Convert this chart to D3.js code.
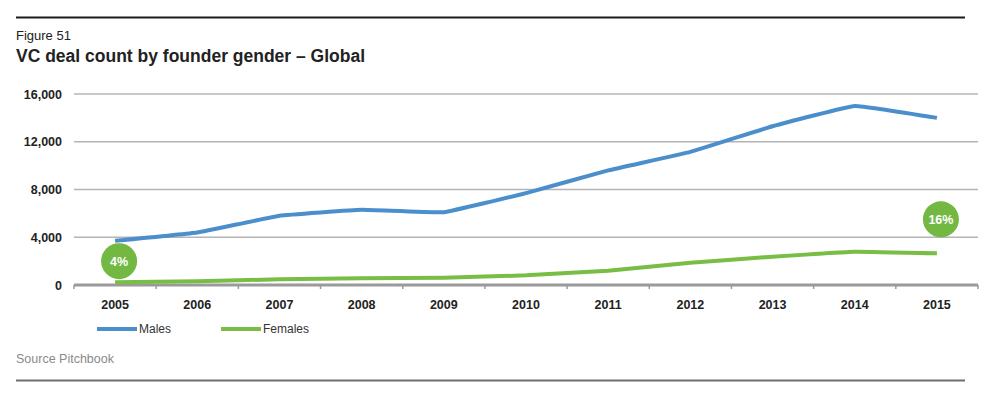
<!DOCTYPE html>
<html>
<head>
<meta charset="utf-8">
<script src="https://cdn.jsdelivr.net/npm/d3@7"></script>
<style>
    body { margin: 0; background: #fff; }
    svg text { font-family: 'Liberation Sans', Arial, sans-serif; }
</style>
</head>
<body>
<div class="graph"></div>
<script>
var years = ['2005', '2006', '2007', '2008', '2009', '2010', '2011', '2012', '2013', '2014', '2015'];
var males = [3700, 4400, 5800, 6300, 6100, 7700, 9600, 11150, 13300, 15000, 14000];
var females = [230, 310, 480, 560, 610, 810, 1200, 1870, 2370, 2790, 2650];
var yTicks = [0, 4000, 8000, 12000, 16000];
var shareLabels = [{ year: '2005', text: '4%', value: 2000 }, { year: '2015', text: '16%', value: 5500 }];
var seriesNames = ['Males', 'Females'];
var colors = ['#4a8fcb', '#78bd44'];

var width = 983, height = 396;
var plotLeft = 74, plotRight = 978, plotTop = 94, plotBottom = 285;

var svg = d3.select('.graph')
    .append('svg')
    .attr('width', width)
    .attr('height', height);

// header
svg.append('line')
    .attr('x1', 16).attr('x2', 965).attr('y1', 17.5).attr('y2', 17.5)
    .attr('stroke', '#1a1a1a').attr('stroke-width', 2);
svg.append('text')
    .attr('x', 16).attr('y', 40)
    .attr('font-size', 13).attr('fill', '#222')
    .text('Figure 51');
svg.append('text')
    .attr('x', 16).attr('y', 62)
    .attr('font-size', 17.5).attr('font-weight', 'bold').attr('fill', '#222')
    .text('VC deal count by founder gender – Global');

var xScale = d3.scaleBand()
    .domain(years)
    .range([plotLeft, plotRight]);

var yScale = d3.scaleLinear()
    .domain([0, 16000])
    .range([plotBottom, plotTop]);

// grid
svg.append('g')
    .selectAll('line')
    .data(yTicks.filter(function (d) { return d > 0; }))
    .enter()
    .append('line')
    .attr('x1', plotLeft).attr('x2', plotRight)
    .attr('y1', function (d) { return yScale(d); })
    .attr('y2', function (d) { return yScale(d); })
    .attr('stroke', '#b4b4b4').attr('stroke-width', 1.5);

// y labels
var yAxis = d3.axisLeft(yScale)
    .tickValues(yTicks)
    .tickSize(0)
    .tickPadding(12)
    .tickFormat(d3.format(','));

svg.append('g')
    .attr('transform', 'translate(' + plotLeft + ',0)')
    .call(yAxis)
    .call(function (g) { g.select('.domain').remove(); })
    .selectAll('text')
    .attr('font-size', 12.5).attr('font-weight', 'bold').attr('fill', '#222')
    .style('font-family', "'Liberation Sans', Arial, sans-serif");

// x axis
var xAxis = d3.axisBottom(xScale).tickSize(0).tickPadding(15);
var xg = svg.append('g')
    .attr('transform', 'translate(0,' + plotBottom + ')')
    .call(xAxis);
xg.select('.domain').remove();
xg.selectAll('text')
    .attr('font-size', 12.5).attr('font-weight', 'bold').attr('fill', '#222')
    .style('font-family', "'Liberation Sans', Arial, sans-serif");

svg.append('line')
    .attr('x1', plotLeft).attr('x2', plotRight).attr('y1', plotBottom).attr('y2', plotBottom)
    .attr('stroke', '#9a9a9a').attr('stroke-width', 3);

var boundaries = years.map(function (d) { return xScale(d); }).concat([plotRight]);
svg.append('g')
    .selectAll('line')
    .data(boundaries)
    .enter()
    .append('line')
    .attr('x1', function (d) { return d; })
    .attr('x2', function (d) { return d; })
    .attr('y1', plotBottom).attr('y2', plotBottom + 4)
    .attr('stroke', '#9a9a9a').attr('stroke-width', 1.5);

// lines
var line = d3.line()
    .x(function (d, i) { return xScale(years[i]) + xScale.bandwidth() / 2; })
    .y(function (d) { return yScale(d); })
    .curve(d3.curveCardinal.tension(0.75));

[males, females].forEach(function (series, k) {
    svg.append('path')
        .datum(series)
        .attr('d', line)
        .attr('fill', 'none')
        .attr('stroke', colors[k])
        .attr('stroke-width', 4)
        .attr('stroke-linejoin', 'round')
        .attr('stroke-linecap', 'butt');
});

// share bubbles
var bubbles = svg.append('g')
    .selectAll('g')
    .data(shareLabels)
    .enter()
    .append('g')
    .attr('transform', function (d) {
        return 'translate(' + (xScale(d.year) + xScale.bandwidth() / 2 + 4) + ',' + yScale(d.value) + ')';
    });
bubbles.append('circle')
    .attr('r', 18)
    .attr('fill', '#72b843');
bubbles.append('text')
    .attr('text-anchor', 'middle')
    .attr('dy', '0.36em')
    .attr('font-size', 12.5).attr('font-weight', 'bold').attr('fill', '#fff')
    .text(function (d) { return d.text; });

// legend
var legend = svg.append('g')
    .selectAll('g')
    .data(seriesNames)
    .enter()
    .append('g')
    .attr('transform', function (d, i) { return 'translate(' + (97 + i * 124) + ',329)'; });
legend.append('line')
    .attr('x1', 0).attr('x2', 40)
    .attr('stroke', function (d, i) { return colors[i]; })
    .attr('stroke-width', 4);
legend.append('text')
    .attr('x', 42).attr('dy', '0.35em')
    .attr('font-size', 12).attr('fill', '#333')
    .text(function (d) { return d; });

// footer
svg.append('text')
    .attr('x', 16).attr('y', 363)
    .attr('font-size', 12.5).attr('fill', '#8a8a8a')
    .text('Source Pitchbook');
svg.append('line')
    .attr('x1', 16).attr('x2', 965).attr('y1', 380.5).attr('y2', 380.5)
    .attr('stroke', '#6e6e6e').attr('stroke-width', 2);
</script>
</body>
</html>
